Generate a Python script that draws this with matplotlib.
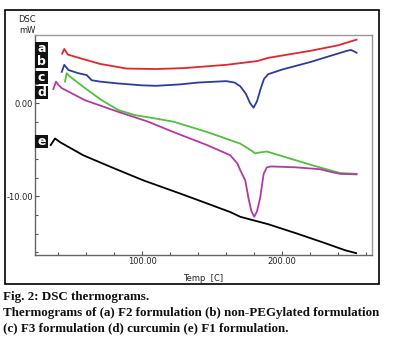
import matplotlib
matplotlib.use("Agg")
import matplotlib.pyplot as plt
from matplotlib.patches import Rectangle
from matplotlib.ticker import MultipleLocator, FormatStrFormatter

# DSC traces (temp in C, heat flow in mW)
temp_a = [43, 44.5, 47, 56, 70, 89, 110, 130, 160, 182, 190, 220, 240, 253]
dsc_a = [5.3, 5.8, 5.2, 4.8, 4.2, 3.7, 3.65, 3.75, 4.1, 4.5, 4.85, 5.6, 6.2, 6.8]

temp_b = [42.7, 44.5, 47.4, 54.5, 60.5, 64, 70, 83, 100, 110, 127, 140, 160, 166, 170,
          174, 177, 179.5, 182, 184.5, 187, 190, 200, 220, 246, 249, 253]
dsc_b = [3.35, 4.1, 3.55, 3.2, 3.0, 2.45, 2.3, 2.1, 1.9, 1.85, 2.0, 2.2, 2.35, 2.2, 1.8,
         1.0, 0.0, -0.5, 0.2, 1.5, 2.6, 3.1, 3.6, 4.4, 5.6, 5.7, 5.4]

temp_c = [45, 46.2, 48, 59.3, 71.2, 83.1, 95, 109.3, 122.4, 146.2, 170, 177, 180.7,
          184, 189, 200, 222, 241, 253]
dsc_c = [2.3, 3.2, 2.9, 1.6, 0.3, -0.75, -1.3, -1.65, -2.0, -3.1, -4.35, -5.0, -5.4,
         -5.3, -5.2, -5.7, -6.7, -7.5, -7.6]

temp_d = [36.7, 38.6, 40, 42.7, 59.3, 83.1, 104.3, 122.2, 146.2, 162.9, 168, 170, 173.6,
          176, 178, 180, 182, 184.3, 186.7, 189, 192, 210, 227, 235, 241.5, 253]
dsc_d = [1.5, 2.3, 2.0, 1.6, 0.3, -0.95, -2.0, -3.1, -4.5, -5.6, -6.5, -7.2, -8.3,
         -10.3, -11.6, -12.2, -11.6, -10.1, -7.6, -6.9, -6.8, -6.9, -7.1, -7.4, -7.6, -7.65]

temp_e = [34.8, 37.9, 41.5, 58, 80, 101, 127, 141.5, 163, 170, 190, 210.5, 230, 245, 252.7]
dsc_e = [-4.5, -3.8, -4.2, -5.6, -7.0, -8.3, -9.7, -10.5, -11.7, -12.2, -13.0, -14.0, -15.0,
         -15.8, -16.1]

series = [
    (temp_a, dsc_a, "#e3262b"),
    (temp_b, dsc_b, "#2e3c9c"),
    (temp_c, dsc_c, "#4dc23a"),
    (temp_d, dsc_d, "#b23aa6"),
    (temp_e, dsc_e, "#000000"),
]
letters = ["a", "b", "c", "d", "e"]
# label box tops in pixels (from the top of the image)
letter_tops = [42, 55, 71, 86, 135]

W, H = 395, 351
fig = plt.figure(figsize=(W / 100, H / 100), dpi=100)

# outer frame of the instrument printout
fig.patches.append(Rectangle((5 / W, 1 - 284 / H), 374 / W, 274 / H,
                             transform=fig.transFigure, fill=False,
                             edgecolor="black", linewidth=1.2))

ax = fig.add_axes([35 / W, 1 - 255 / H, 337 / W, 220 / H])
for x, y, c in series:
    ax.plot(x, y, color=c, linewidth=1.3, solid_joinstyle="round")

ax.set_xlim(23.6, 264)
ax.set_ylim(-16.3, 7.3)
ax.xaxis.set_major_locator(MultipleLocator(100))
ax.xaxis.set_minor_locator(MultipleLocator(20))
ax.yaxis.set_major_locator(MultipleLocator(10))
ax.yaxis.set_minor_locator(MultipleLocator(2))
ax.xaxis.set_major_formatter(FormatStrFormatter("%.2f"))
ax.yaxis.set_major_formatter(FormatStrFormatter("%.2f"))
ax.tick_params(which="both", labelsize=6, colors="#555555", labelcolor="#222222",
               direction="in", width=0.8)
ax.tick_params(which="major", length=3, pad=1.5)
ax.tick_params(which="minor", length=2)
for s in ax.spines.values():
    s.set_color("#999999")
    s.set_linewidth(1.0)
ax.spines["left"].set_color("#666666")
ax.spines["bottom"].set_color("#666666")

ax.set_xlabel("Temp  [C]", fontsize=6, color="#222222", labelpad=6)
fig.text(27 / W, 1 - 25 / H, "DSC\nmW", fontsize=6, ha="center", va="center",
         color="#222222", linespacing=1.3)

for lt, top in zip(letters, letter_tops):
    fig.patches.append(Rectangle((35 / W, 1 - (top + 13) / H), 13 / W, 13 / H,
                                 transform=fig.transFigure, facecolor="#111111",
                                 edgecolor="none"))
    fig.text(41.5 / W, 1 - (top + 6.5) / H, lt, color="white", fontsize=9,
             fontweight="bold", ha="center", va="center")

cap = dict(fontsize=9.4, fontweight="bold", family="Liberation Serif", color="#111111",
           ha="left", va="center")
fig.text(3 / W, 1 - 297 / H, "Fig. 2: DSC thermograms.", **cap)
fig.text(3 / W, 1 - 313 / H,
         "Thermograms of (a) F2 formulation (b) non-PEGylated formulation", **cap)
fig.text(3 / W, 1 - 328 / H,
         "(c) F3 formulation (d) curcumin (e) F1 formulation.", **cap)

fig.savefig("out.png", dpi=100)
